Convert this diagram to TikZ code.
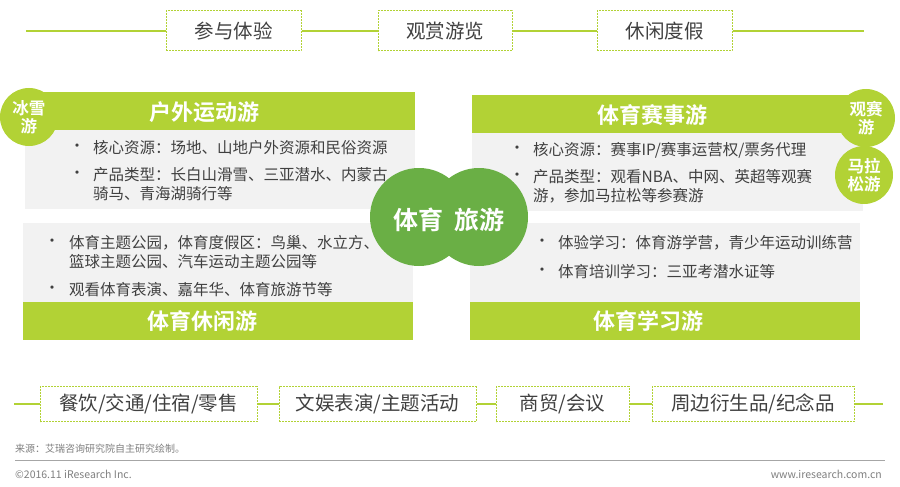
\documentclass[tikz,border=0pt]{standalone}
\usepackage{fontspec}
\setmainfont{Noto Sans CJK SC}[BoldFont={Noto Sans CJK SC Bold}]
\usetikzlibrary{positioning}
\definecolor{irlime}{HTML}{B2D235}
\definecolor{irgreen}{HTML}{6AAF45}
\definecolor{irgray}{HTML}{F2F2F2}
\definecolor{irtext}{HTML}{404040}
\definecolor{irfoot}{HTML}{7F7F7F}

\begin{document}
\begin{tikzpicture}[x=1pt, y=-1pt,
  tagbox/.style ={draw=irlime, line width=1pt, dash pattern=on 2pt off 1pt, inner sep=0pt, text=irtext, font=\fontsize{19.5}{22}\selectfont},
  link/.style   ={irlime, line width=1.5pt},
  panel/.style  ={fill=irgray, anchor=north west, inner sep=0pt, minimum width=390pt, minimum height=80pt},
  bar/.style    ={fill=irlime, anchor=north west, inner sep=0pt, minimum width=390pt, minimum height=38pt},
  barText/.style={text=white, inner sep=0pt, font=\fontsize{22}{24}\selectfont\bfseries},
  badge/.style  ={circle, fill=irlime, inner sep=0pt, minimum size=58pt, text=white, align=center, font=\fontsize{16.5}{18.5}\selectfont\bfseries},
  core/.style   ={circle, fill=irgreen, inner sep=0pt, minimum size=98pt},
  dot/.style    ={text=irtext, inner sep=0pt, font=\fontsize{15.5}{18.5}\selectfont},
  item/.style   ={text=irtext, inner sep=0pt, anchor=west, align=left, font=\fontsize{15.5}{18.5}\selectfont},
  foot/.style   ={text=irfoot, inner sep=0pt, font=\fontsize{10}{12}\selectfont},
]
\useasboundingbox (0,0) rectangle (900,487);

% top row of tags
\node[tagbox, minimum width=135pt, minimum height=40pt] (tagJoin)  at (233.5,31) {参与体验};
\node[tagbox, minimum width=134pt, minimum height=40pt] (tagView)  at (445,31)   {观赏游览};
\node[tagbox, minimum width=135pt, minimum height=40pt] (tagLeis)  at (664.5,31) {休闲度假};
\coordinate (topL) at (26,31);
\coordinate (topR) at (864,31);
\draw[link] (topL) -- (tagJoin) (tagJoin) -- (tagView) (tagView) -- (tagLeis) (tagLeis) -- (topR);

% outdoor sports
\node[panel, minimum width=390pt, minimum height=81pt] (pOut) at (25,128) {};
\node[bar] (hOut) at (25,92) {};
\node[barText] (tOut) at (204,112) {户外运动游};
\node[badge] (bIce) at (29,117) {冰雪\\游};
\node[dot] (dOut1) at (77,148) {•};
\node[item] (iOut1) at (93,148) {核心资源：场地、山地户外资源和民俗资源};
\node[dot] (dOut2) at (77,175) {•};
\node[item] (iOut2) at (93,184.25) {产品类型：长白山滑雪、三亚潜水、内蒙古\\骑马、青海湖骑行等};

% sports events
\node[panel, minimum width=391pt] (pEvt) at (472,131) {};
\node[bar, minimum width=391pt] (hEvt) at (472,95) {};
\node[barText] (tEvt) at (652,115) {体育赛事游};
\node[badge] (bWatch) at (866,118) {观赛\\游};
\node[badge] (bRun) at (864,175) {马拉\\松游};
\node[dot] (dEvt1) at (517,150) {•};
\node[item] (iEvt1) at (533,150) {核心资源：赛事IP/赛事运营权/票务代理};
\node[dot] (dEvt2) at (517,177) {•};
\node[item] (iEvt2) at (533,186.25) {产品类型：观看NBA、中网、英超等观赛\\游，参加马拉松等参赛游};

% sports leisure
\node[panel] (pLei) at (23,223) {};
\node[bar] (hLei) at (23,302) {};
\node[barText] (tLei) at (202,321) {体育休闲游};
\node[dot] (dLei1) at (52,243) {•};
\node[item] (iLei1) at (69,252.25) {体育主题公园，体育度假区：鸟巢、水立方、\\篮球主题公园、汽车运动主题公园等};
\node[dot] (dLei2) at (52,290) {•};
\node[item] (iLei2) at (69,290) {观看体育表演、嘉年华、体育旅游节等};

% sports study
\node[panel] (pStu) at (470,223) {};
\node[bar] (hStu) at (470,302) {};
\node[barText] (tStu) at (648,321) {体育学习游};
\node[dot] (dStu1) at (542,243) {•};
\node[item] (iStu1) at (558,243) {体验学习：体育游学营，青少年运动训练营};
\node[dot] (dStu2) at (542,272) {•};
\node[item] (iStu2) at (558,272) {体育培训学习：三亚考潜水证等};

% centre
\node[core] (cSport) at (419,217) {};
\node[core] (cTour)  at (479,217) {};
\node[text=white, inner sep=0pt, font=\fontsize{25}{27}\selectfont\bfseries] (tCore) at (449,220) {体育\hspace{11pt}旅游};

% bottom row of tags
\node[tagbox, minimum width=217pt, minimum height=35pt] (tagFood)  at (148.5,404) {餐饮/交通/住宿/零售};
\node[tagbox, minimum width=197pt, minimum height=35pt] (tagShow)  at (377.5,404) {文娱表演/主题活动};
\node[tagbox, minimum width=133pt, minimum height=35pt] (tagTrade) at (562.5,404) {商贸/会议};
\node[tagbox, minimum width=202pt, minimum height=35pt] (tagGoods) at (753,404)   {周边衍生品/纪念品};
\coordinate (botL) at (14,404);
\coordinate (botR) at (883,404);
\draw[link] (botL) -- (tagFood) (tagFood) -- (tagShow) (tagShow) -- (tagTrade) (tagTrade) -- (tagGoods) (tagGoods) -- (botR);

% footer
\node[foot, anchor=west] (src) at (15,449) {来源：艾瑞咨询研究院自主研究绘制。};
\draw[black!35, line width=1pt] (15,460) -- (885,460);
\node[foot, anchor=west, font=\fontsize{10.5}{12}\selectfont] (copy) at (15,474) {©2016.11 iResearch Inc.};
\node[foot, anchor=east, font=\fontsize{10.5}{12}\selectfont] (web) at (882,474) {www.iresearch.com.cn};
\end{tikzpicture}
\end{document}
